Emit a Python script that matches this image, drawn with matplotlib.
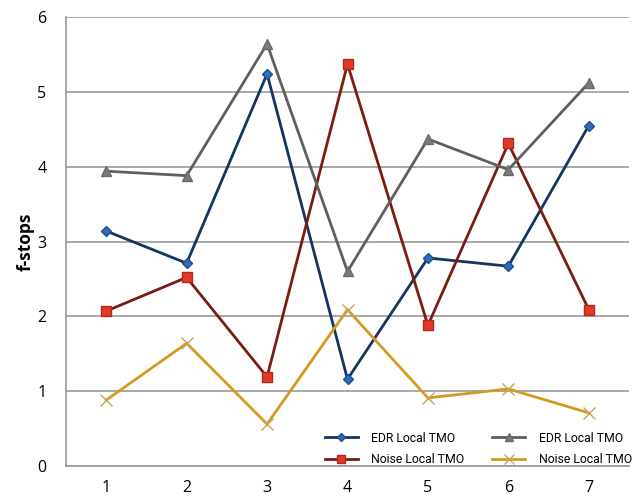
import matplotlib.pyplot as plt
import numpy as np

plt.rcParams["font.family"] = ["Open Sans", "DejaVu Sans"]

# values
images = [1, 2, 3, 4, 5, 6, 7]
edr_blue = [3.14, 2.71, 5.24, 1.16, 2.78, 2.67, 4.55]
noise_red = [2.07, 2.52, 1.19, 5.37, 1.88, 4.31, 2.09]
edr_grey = [3.94, 3.88, 5.64, 2.60, 4.37, 3.96, 5.12]
noise_gold = [0.88, 1.64, 0.56, 2.09, 0.91, 1.03, 0.71]
labels = ["EDR Local TMO", "Noise Local TMO", "EDR Local TMO", "Noise Local TMO"]

fig = plt.figure(figsize=(6.37, 5), dpi=100)
ax = fig.add_axes([66 / 637, 34 / 500, 563 / 637, 449 / 500])

ax.plot(images, edr_blue, color="#15345f", lw=2, marker="D", ms=5,
        mfc="#2f6db5", mec="#1f4f8f", label=labels[0])
ax.plot(images, noise_red, color="#7a1c14", lw=2, marker="s", ms=6.5,
        mfc="#e23a26", mec="#b22a1c", label=labels[1])
ax.plot(images, edr_grey, color="#5f5f5f", lw=2, marker="^", ms=7,
        mfc="#7a7a7a", mec="#6a6a6a", label=labels[2])
ax.plot(images, noise_gold, color="#d39a22", lw=2, marker="x", ms=9,
        mew=1, mec="#c9a25a", label=labels[3])

ax.set_xlim(0.5, 7.5)
ax.set_ylim(0, 6)
ax.set_xticks(images)
ax.set_yticks(range(7))
ax.tick_params(length=0, labelsize=11.5, pad=10)
ax.tick_params(axis="y", pad=14)
ax.yaxis.grid(True, color="#9a9a9a", lw=1.2)
ax.set_axisbelow(True)
for side in ["top", "right"]:
    ax.spines[side].set_visible(False)
for side in ["left", "bottom"]:
    ax.spines[side].set_color("#9a9a9a")
    ax.spines[side].set_linewidth(1.2)

ax.set_ylabel("f-stops", fontsize=12.5, fontweight="bold", labelpad=2)

ax.legend(ncol=2, loc="lower right", bbox_to_anchor=(1.025, -0.025), frameon=False,
          prop={"family": ["Liberation Sans Narrow", "Roboto"], "size": 8.8},
          handlelength=2.7, columnspacing=2.3, labelspacing=0.7,
          handletextpad=1.1, markerscale=0.85)

fig.savefig("out.png", dpi=100)
